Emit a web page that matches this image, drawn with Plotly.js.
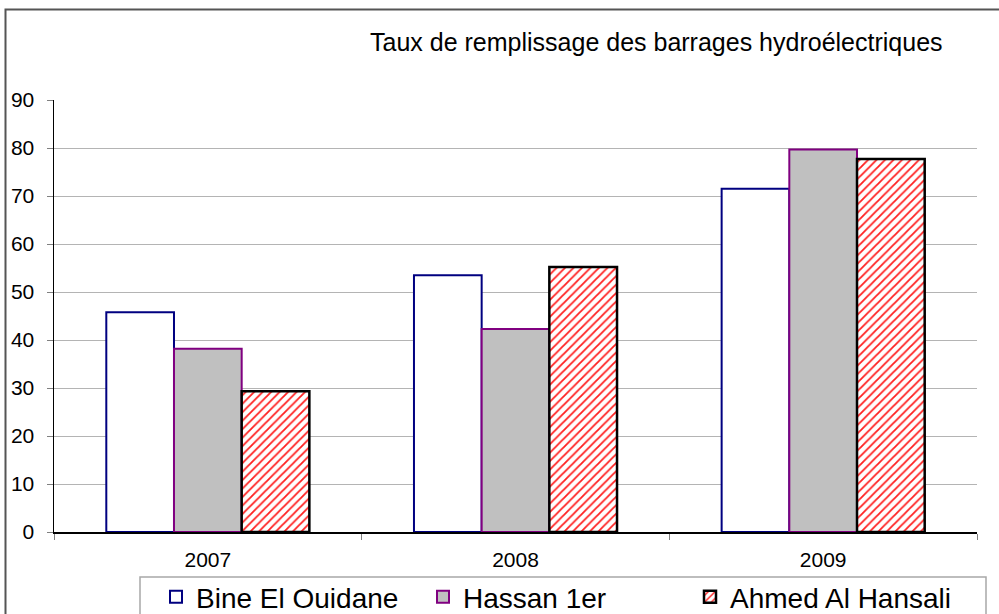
<!DOCTYPE html>
<html>
<head>
<meta charset="utf-8">
<script src="https://cdn.plot.ly/plotly-3.0.1.min.js"></script>
<style>html,body{margin:0;padding:0;background:#fff;}#chart{width:999px;height:614px;}</style>
</head>
<body>
<div id="chart"></div>
<script>
const years = ['2007', '2008', '2009'];
const bineElOuidane = [45.8, 53.5, 71.5];
const hassan1er = [38.2, 42.3, 79.7];
const ahmedAlHansali = [29.3, 55.2, 77.7];
const seriesNames = ['Bine El Ouidane', 'Hassan 1er', 'Ahmed Al Hansali'];
const yTicks = [0, 10, 20, 30, 40, 50, 60, 70, 80, 90];

const font = 'Liberation Sans, Arial, sans-serif';

const traces = [
  {
    type: 'bar', name: seriesNames[0], x: years, y: bineElOuidane,
    marker: {color: '#ffffff', line: {color: '#000080', width: 2}},
    hoverinfo: 'none'
  },
  {
    type: 'bar', name: seriesNames[1], x: years, y: hassan1er,
    marker: {color: '#c0c0c0', line: {color: '#800080', width: 2}},
    hoverinfo: 'none'
  },
  {
    type: 'bar', name: seriesNames[2], x: years, y: ahmedAlHansali,
    marker: {color: '#ffffff', line: {color: '#000000', width: 2.5},
      pattern: {shape: '/', fgcolor: '#ff2020', bgcolor: '#ffffff', size: 6, solidity: 0.3}},
    hoverinfo: 'none'
  }
];

// plot area: x 54..977 px, y 100..532 px
const px = v => (v - 54) / 923;
const py = v => (532 - v) / 432;

const layout = {
  width: 999, height: 614,
  margin: {l: 54, r: 22, t: 100, b: 82, autoexpand: false},
  paper_bgcolor: '#ffffff', plot_bgcolor: '#ffffff',
  font: {family: font, color: '#000000'},
  title: {
    text: 'Taux de remplissage des barrages hydroélectriques',
    font: {family: font, size: 25, color: '#000000'},
    x: 370 / 999, xanchor: 'left', xref: 'container',
    y: 1 - 42 / 614, yanchor: 'middle', yref: 'container'
  },
  barmode: 'group', bargap: 0.34, bargroupgap: 0,
  xaxis: {
    type: 'category', showgrid: false, zeroline: false,
    showline: true, linecolor: '#000000', linewidth: 1.5,
    ticks: 'outside', tickson: 'boundaries', ticklen: 6, tickcolor: '#808080',
    ticklabelstandoff: 8,
    tickfont: {family: font, size: 21, color: '#000000'}
  },
  yaxis: {
    range: [0, 90], tickvals: yTicks, ticktext: yTicks.map(String),
    showgrid: true, gridcolor: '#b4b4b4', gridwidth: 1,
    zeroline: false, showline: true, linecolor: '#000000', linewidth: 1.5,
    ticks: 'outside', ticklen: 6, tickcolor: '#808080',
    ticklabelstandoff: 8,
    tickfont: {family: font, size: 21, color: '#000000'}
  },
  showlegend: true,
  legend: {
    orientation: 'h', xref: 'container', yref: 'container',
    x: 156 / 999, xanchor: 'left',
    y: 1 - 572 / 614, yanchor: 'top',
    borderwidth: 0, bgcolor: 'rgba(0,0,0,0)',
    font: {family: font, size: 28, color: '#000000'},
    entrywidth: 222, entrywidthmode: 'pixels', traceorder: 'normal'
  },
  shapes: [
    {
      type: 'rect', xref: 'paper', yref: 'paper',
      x0: px(5.5), x1: 1.2, y0: -0.5, y1: py(9.5),
      line: {color: '#555555', width: 2}, fillcolor: 'rgba(0,0,0,0)', layer: 'below'
    },
    {
      type: 'rect', xref: 'paper', yref: 'paper',
      x0: px(140), x1: px(986), y0: py(640), y1: py(577),
      line: {color: '#a8a8a8', width: 1.5}, fillcolor: 'rgba(0,0,0,0)', layer: 'below'
    }
  ]
};

Plotly.newPlot('chart', traces, layout, {displayModeBar: false, staticPlot: true});
</script>
</body>
</html>
